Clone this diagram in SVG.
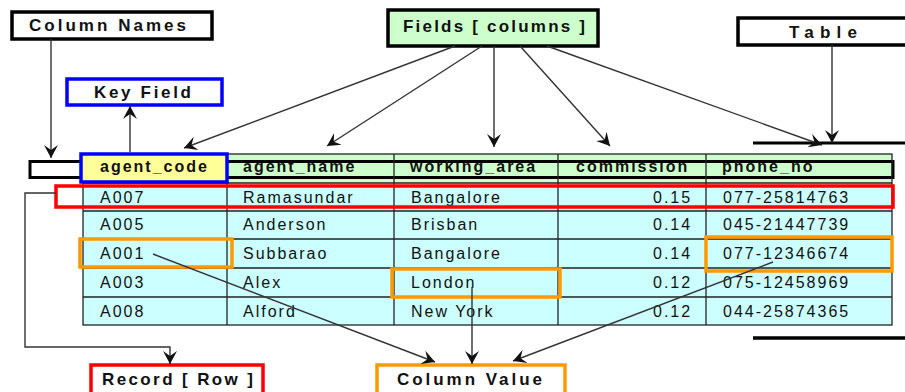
<svg xmlns="http://www.w3.org/2000/svg" width="905" height="392" viewBox="0 0 905 392">
<style>
  text { font-family: "Liberation Sans", Arial, sans-serif; font-size: 16px; fill: #111; }
  .lbl { font-weight: bold; font-size: 17px; }
  .hd { font-weight: bold; letter-spacing: 2px; }
  .cell { letter-spacing: 2px; }
  .box { fill: #fff; stroke: #000; stroke-width: 3.5; }
  .conn { fill: none; stroke: #333; stroke-width: 1.4; }
  .grid { stroke: #222; stroke-width: 1.3; fill: none; }
  .hl { fill: none; stroke-width: 3.5; }
</style>
<defs>
  <marker id="arr" markerUnits="userSpaceOnUse" markerWidth="16" markerHeight="16" refX="13" refY="8" orient="auto">
    <path d="M0,1 L13,8 L0,15 L5,8 z" fill="#111"/>
  </marker>
</defs>
<rect width="905" height="392" fill="#fff"/>

<g id="table">
  <rect x="83" y="154" width="809" height="29" fill="#ccffcc"/>
  <rect x="83" y="183" width="809" height="142" fill="#ccffff"/>
  <rect x="30" y="161.5" width="863" height="16" fill="none" stroke="#000" stroke-width="3"/>
  <g class="grid">
    <rect x="83" y="154" width="809" height="171"/>
    <line x1="83" y1="183" x2="892" y2="183"/>
    <line x1="83" y1="211" x2="892" y2="211"/>
    <line x1="83" y1="239" x2="892" y2="239"/>
    <line x1="83" y1="268" x2="892" y2="268"/>
    <line x1="83" y1="297" x2="892" y2="297"/>
    <line x1="227" y1="154" x2="227" y2="325"/>
    <line x1="394" y1="154" x2="394" y2="325"/>
    <line x1="558" y1="154" x2="558" y2="325"/>
    <line x1="706" y1="154" x2="706" y2="325"/>
  </g>
  <rect x="81" y="154" width="146" height="28" fill="#ffff99" stroke="#0000ff" stroke-width="3.5"/>
  <text class="hd" x="100" y="172">agent_code</text>
  <text class="hd" x="243" y="172">agent_name</text>
  <text class="hd" x="410" y="172">working_area</text>
  <text class="hd" x="576" y="172">commission</text>
  <text class="hd" x="722" y="172">phone_no</text>

  <text class="cell" x="100" y="203">A007</text>
  <text class="cell" x="243" y="203">Ramasundar</text>
  <text class="cell" x="411" y="203">Bangalore</text>
  <text class="cell" x="653" y="203">0.15</text>
  <text class="cell" x="723" y="203">077-25814763</text>

  <text class="cell" x="100" y="230">A005</text>
  <text class="cell" x="243" y="230">Anderson</text>
  <text class="cell" x="411" y="230">Brisban</text>
  <text class="cell" x="653" y="230">0.14</text>
  <text class="cell" x="723" y="230">045-21447739</text>

  <text class="cell" x="100" y="259">A001</text>
  <text class="cell" x="243" y="259">Subbarao</text>
  <text class="cell" x="411" y="259">Bangalore</text>
  <text class="cell" x="653" y="259">0.14</text>
  <text class="cell" x="723" y="259">077-12346674</text>

  <text class="cell" x="100" y="288">A003</text>
  <text class="cell" x="243" y="288">Alex</text>
  <text class="cell" x="411" y="288">London</text>
  <text class="cell" x="653" y="288">0.12</text>
  <text class="cell" x="723" y="288">075-12458969</text>

  <text class="cell" x="100" y="317">A008</text>
  <text class="cell" x="243" y="317">Alford</text>
  <text class="cell" x="411" y="317">New York</text>
  <text class="cell" x="653" y="317">0.12</text>
  <text class="cell" x="723" y="317">044-25874365</text>

  <rect class="hl" x="56" y="186" width="837" height="21" stroke="#ff0000"/>
  <rect class="hl" x="80" y="239" width="152" height="28" stroke="#ff9900"/>
  <rect class="hl" x="392" y="269" width="168" height="28" stroke="#ff9900"/>
  <rect class="hl" x="706" y="237" width="186" height="34" stroke="#ff9900"/>
  <line x1="753" y1="143" x2="905" y2="143" stroke="#000" stroke-width="3"/>
  <line x1="753" y1="338" x2="905" y2="338" stroke="#000" stroke-width="3.5"/>
</g>

<g id="column-names">
  <rect class="box" x="12" y="12" width="200" height="27"/>
  <text class="lbl" x="29" y="31" textLength="157" lengthAdjust="spacing">Column Names</text>
</g>
<g id="key-field">
  <rect class="box" x="67" y="79" width="155" height="26" style="stroke:#0000ff"/>
  <text class="lbl" x="94" y="98" textLength="97" lengthAdjust="spacing">Key Field</text>
</g>
<g id="fields">
  <rect class="box" x="388" y="10" width="210" height="36" style="fill:#ccffcc"/>
  <text class="lbl" x="403" y="32" textLength="182" lengthAdjust="spacing">Fields [ columns ]</text>
</g>
<g id="table-label">
  <rect class="box" x="738" y="18" width="180" height="27"/>
  <text class="lbl" x="789" y="38" textLength="68" lengthAdjust="spacing">Table</text>
</g>
<g id="record">
  <rect class="box" x="91" y="365" width="172" height="36" style="stroke:#ff0000"/>
  <text class="lbl" x="102" y="385" textLength="151" lengthAdjust="spacing">Record [ Row ]</text>
</g>
<g id="column-value">
  <rect class="box" x="377" y="365" width="188" height="36" style="stroke:#ff9900"/>
  <text class="lbl" x="397" y="385" textLength="145" lengthAdjust="spacing">Column Value</text>
</g>

<g id="connectors">
  <line class="conn" x1="51" y1="39" x2="51" y2="158" marker-end="url(#arr)"/>
  <line class="conn" x1="130" y1="152" x2="130" y2="106" marker-end="url(#arr)"/>
  <line class="conn" x1="455" y1="46" x2="184" y2="148" marker-end="url(#arr)"/>
  <line class="conn" x1="482" y1="46" x2="327" y2="146" marker-end="url(#arr)"/>
  <line class="conn" x1="494" y1="46" x2="494" y2="147" marker-end="url(#arr)"/>
  <line class="conn" x1="520" y1="46" x2="610" y2="146" marker-end="url(#arr)"/>
  <line class="conn" x1="547" y1="46" x2="822" y2="145" marker-end="url(#arr)"/>
  <line class="conn" x1="832" y1="45" x2="832" y2="143" marker-end="url(#arr)"/>
  <polyline class="conn" points="56,193 25,193 25,347 170,347 170,364" marker-end="url(#arr)"/>
  <line class="conn" x1="153" y1="254" x2="435" y2="362" marker-end="url(#arr)"/>
  <line class="conn" x1="472" y1="287" x2="472" y2="364" marker-end="url(#arr)"/>
  <line class="conn" x1="773" y1="262" x2="513" y2="361" marker-end="url(#arr)"/>
</g>
</svg>
